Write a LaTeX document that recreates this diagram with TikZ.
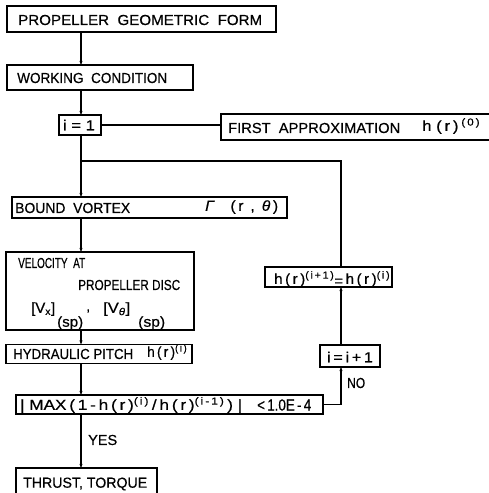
\documentclass[tikz,border=0pt]{standalone}
\usepackage{fontspec}
\usepackage{graphicx}
\setmainfont{Liberation Sans}[FakeBold=0.5]
\usetikzlibrary{arrows.meta}
% squeeze or stretch a label horizontally to a given width, keeping its height
\newsavebox\fitbox
\newcommand\fitto[2]{\sbox\fitbox{#2}%
  \pgfmathsetmacro\fitscale{#1/\wd\fitbox}%
  \scalebox{\fitscale}[1]{\usebox\fitbox}}
\begin{document}
\begin{tikzpicture}[x=1pt,y=-1pt,
  box/.style={draw, line width=1.3pt, inner sep=0pt, outer sep=0pt},
  lbl/.style={inner sep=0pt, anchor=west, font=\fontsize{14.5}{16}\selectfont},
  flow/.style={line width=1.1pt},
  arr/.style={flow, -{Stealth[length=4pt,width=3pt]}}]
\useasboundingbox (0,0) rectangle (489,493);
\clip (0,0) rectangle (489,493);

% vertical trunk and return branch
\coordinate (spine) at (81,0);
\coordinate (loopx) at (341,0);
\coordinate (merge) at (81,161);
\coordinate (loopturn) at (341,161);

% boxes
\node[box, minimum width=269pt, minimum height=26pt] (pgf)    at (141.5,19)   {};
\node[box, minimum width=186pt, minimum height=25pt] (work)   at (100,77.5)   {};
\node[box, minimum width=42pt,  minimum height=20pt] (ione)   at (80,125)     {};
\node[box, minimum width=279pt, minimum height=26pt] (first)  at (360.5,127)  {};
\node[box, minimum width=275pt, minimum height=21pt] (bound)  at (149.5,207.5){};
\node[box, minimum width=188pt, minimum height=78pt] (vel)    at (100,291)    {};
\node[box, minimum width=186pt, minimum height=19pt] (hyd)    at (99,354)     {};
\node[box, minimum width=127pt, minimum height=20pt] (hupd)   at (328.5,277)  {};
\node[box, minimum width=60pt,  minimum height=22pt] (inc)    at (350,356)    {};
\node[box, minimum width=307pt, minimum height=19pt] (cond)   at (169.5,404.5){};
\node[box, minimum width=141pt, minimum height=32pt] (thrust) at (86.5,484)   {};

% labels
\node[lbl] (tpgf) at (18,20) {\fitto{244pt}{PROPELLER\ \ GEOMETRIC\ \ FORM}};
\node[lbl] (twork) at (17,78) {\fitto{150pt}{WORKING\ \ CONDITION}};
\node[lbl, anchor=center] (tione) at (79,125) {\fitto{32pt}{i\ =\ 1}};
\node[lbl] (tfirst) at (228,128) {\fitto{172pt}{FIRST\ \ APPROXIMATION}};
\node[lbl] (tfirsth) at (422,126) {\fitto{58pt}{h\;(\,r\,)\,\textsuperscript{(\,0\,)}}};
\node[lbl] (tbound) at (15,208) {\fitto{115pt}{BOUND\ \ VORTEX}};
\node[lbl] (tgamma) at (205,207) {\fitto{73pt}{\textit{Γ}\quad(\,r\,\ ,\ \,\textit{θ}\,)}};
\node[lbl] (tvel1) at (18,263) {\fitto{67pt}{VELOCITY\ \ AT}};
\node[lbl] (tvel2) at (78,285) {\fitto{102pt}{PROPELLER\ DISC}};
\node[lbl] (tvx) at (31,309) {\fitto{24pt}{[V\textsubscript{x}]}};
\node[lbl] (tcomma) at (86,311) {,};
\node[lbl] (tvt) at (103,309) {\fitto{27pt}{[V\textsubscript{\textit{θ}}]}};
\node[lbl] (tsp1) at (57,323) {\fitto{26pt}{(sp)}};
\node[lbl] (tsp2) at (138,323) {\fitto{27pt}{(sp)}};
\node[lbl] (thyd) at (13,354) {\fitto{120pt}{HYDRAULIC\ PITCH}};
\node[lbl] (thydh) at (147,352) {\fitto{40pt}{h\,(\,r\,)\textsuperscript{(\,i\,)}}};
\node[lbl] (thupd) at (274,279) {\fitto{116pt}{h\,(\,r\,)\textsuperscript{(\,i\,+\,1\,)}\raisebox{-2pt}{=}\,h\,(\,r\,)\textsuperscript{(\,i\,)}}};
\node[lbl, anchor=center] (tinc) at (350,357) {\fitto{46pt}{i\,=\,i\,+\,1}};
\node[lbl] (tcond) at (20,405) {\fitto{222pt}{|\ MAX\,(\,1\,-\,h\,(\,r\,)\textsuperscript{(\,i\,)}\,/\,h\,(\,r\,)\textsuperscript{(\,i\,-\,1\,)}\,)\ |}};
\node[lbl, font=\fontsize{16}{18}\selectfont] (tcondr) at (257,405) {\fitto{54pt}{<\,1.0E\,-\,4}};
\node[lbl] (tthrust) at (23,484) {\fitto{124pt}{THRUST,\ TORQUE}};
\node[lbl] (tyes) at (88,440) {\fitto{29pt}{YES}};
\node[lbl] (tno) at (347,383) {\fitto{18pt}{NO}};

% main flow
\draw[arr] (pgf.south -| spine) -- (work.north -| spine);
\draw[arr] (work.south -| spine) -- (ione.north -| spine);
\draw[arr] (ione.south -| spine) -- (bound.north -| spine);
\draw[flow] (ione.east) -- (first.west |- ione.east);
\draw[arr] (bound.south -| spine) -- (vel.north -| spine);
\draw[arr] (vel.south -| spine) -- (hyd.north -| spine);
\draw[arr] (hyd.south -| spine) -- (cond.north -| spine);
\draw[arr] (cond.south -| spine) -- (thrust.north -| spine);

% iteration loop
\draw[arr] (cond.east) -- (cond.east -| loopx) -- (inc.south -| loopx);
\draw[arr] (inc.north -| loopx) -- (hupd.south -| loopx);
\draw[flow] (hupd.north -| loopx) -- (loopturn) -- (merge);
\end{tikzpicture}
\end{document}
